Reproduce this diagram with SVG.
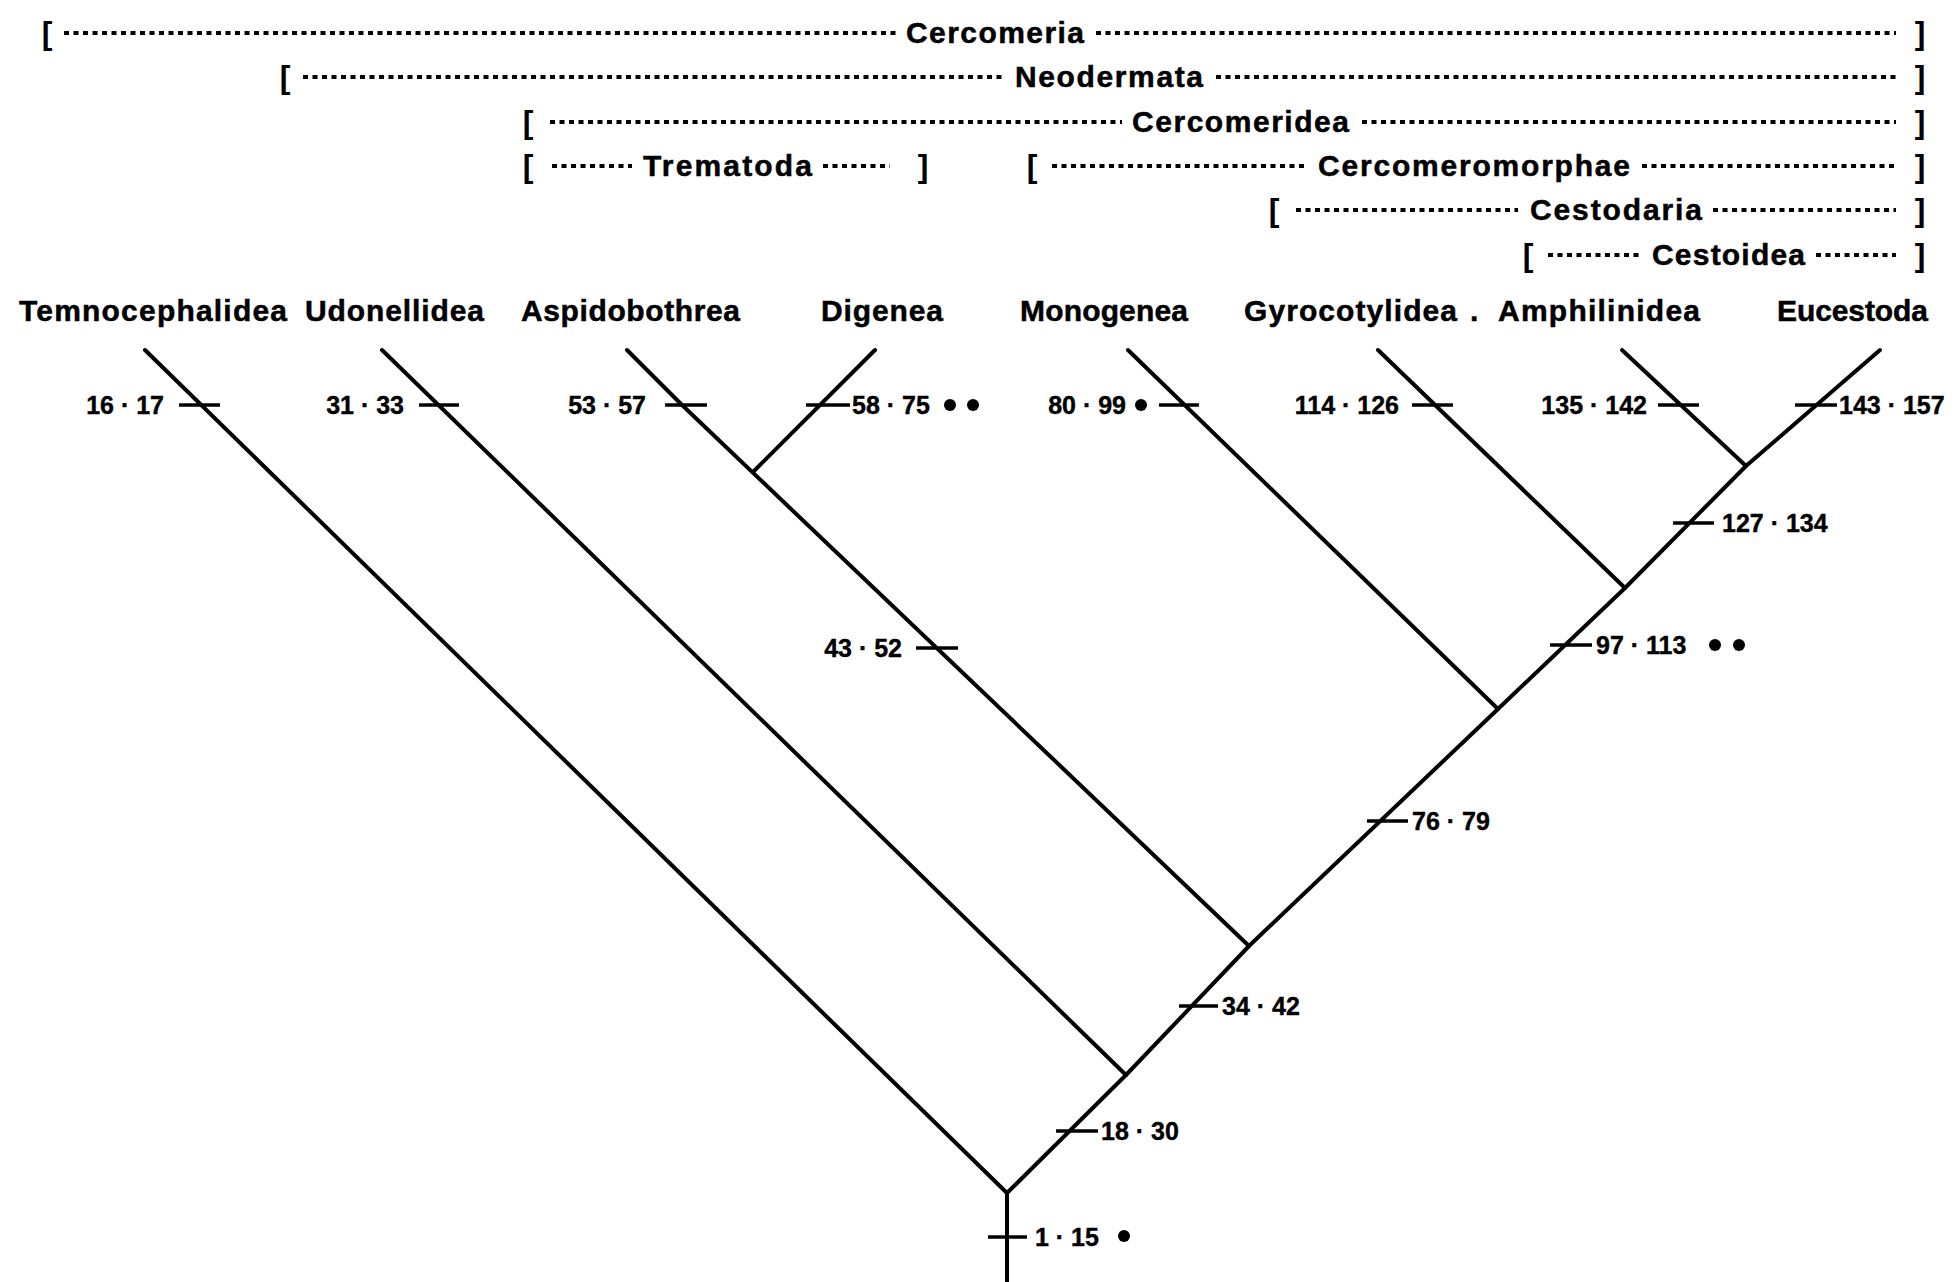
<svg xmlns="http://www.w3.org/2000/svg" width="1959" height="1282" viewBox="0 0 1959 1282">
  <style>
    .bg { fill: #ffffff; }
    .clade { font-family: "Liberation Sans", Arial, sans-serif; font-weight: bold; font-size: 30px; fill: #000; stroke: #000; stroke-width: 0.5; }
    .br { font-family: "Liberation Sans", Arial, sans-serif; font-weight: bold; font-size: 32px; fill: #000; text-anchor: middle; }
    .lead { stroke: #000; stroke-width: 4; stroke-dasharray: 5 4.5; fill: none; }
    .taxon { font-family: "Liberation Sans", Arial, sans-serif; font-weight: bold; font-size: 30px; fill: #000; stroke: #000; stroke-width: 0.5; }
    .num { font-family: "Liberation Sans", Arial, sans-serif; font-weight: bold; font-size: 25px; fill: #000; stroke: #000; stroke-width: 0.4; }
    .numL { text-anchor: end; }
    .branch { stroke: #000; stroke-width: 4; fill: none; stroke-linejoin: round; stroke-linecap: round; }
    .tick { stroke: #000; stroke-width: 3.5; }
    .dot { fill: #000; }
  </style>
  <rect class="bg" x="0" y="0" width="1959" height="1282"/>

  <!-- clade brackets above the tree -->
  <g id="clade-cercomeria">
    <text class="br" x="47" y="44">[</text>
    <line class="lead" x1="64" y1="33" x2="896" y2="33"/>
    <text class="clade" x="906" y="43" textLength="178" lengthAdjust="spacing">Cercomeria</text>
    <line class="lead" x1="1096" y1="33" x2="1896" y2="33"/>
    <text class="br" x="1920" y="44">]</text>
  </g>
  <g id="clade-neodermata">
    <text class="br" x="285" y="88">[</text>
    <line class="lead" x1="303" y1="77" x2="1005" y2="77"/>
    <text class="clade" x="1015" y="87" textLength="188" lengthAdjust="spacing">Neodermata</text>
    <line class="lead" x1="1216" y1="77" x2="1896" y2="77"/>
    <text class="br" x="1920" y="88">]</text>
  </g>
  <g id="clade-cercomeridea">
    <text class="br" x="528" y="133">[</text>
    <line class="lead" x1="550" y1="122" x2="1122" y2="122"/>
    <text class="clade" x="1132" y="132" textLength="217" lengthAdjust="spacing">Cercomeridea</text>
    <line class="lead" x1="1362" y1="122" x2="1896" y2="122"/>
    <text class="br" x="1920" y="133">]</text>
  </g>
  <g id="clade-trematoda">
    <text class="br" x="528" y="177">[</text>
    <line class="lead" x1="552" y1="166" x2="632" y2="166"/>
    <text class="clade" x="643" y="176" textLength="169" lengthAdjust="spacing">Trematoda</text>
    <line class="lead" x1="823" y1="166" x2="890" y2="166"/>
    <text class="br" x="923" y="177">]</text>
  </g>
  <g id="clade-cercomeromorphae">
    <text class="br" x="1032" y="177">[</text>
    <line class="lead" x1="1052" y1="166" x2="1306" y2="166"/>
    <text class="clade" x="1318" y="176" textLength="312" lengthAdjust="spacing">Cercomeromorphae</text>
    <line class="lead" x1="1642" y1="166" x2="1896" y2="166"/>
    <text class="br" x="1920" y="177">]</text>
  </g>
  <g id="clade-cestodaria">
    <text class="br" x="1274" y="221">[</text>
    <line class="lead" x1="1296" y1="210" x2="1518" y2="210"/>
    <text class="clade" x="1530" y="220" textLength="172" lengthAdjust="spacing">Cestodaria</text>
    <line class="lead" x1="1713" y1="210" x2="1896" y2="210"/>
    <text class="br" x="1920" y="221">]</text>
  </g>
  <g id="clade-cestoidea">
    <text class="br" x="1528" y="266">[</text>
    <line class="lead" x1="1548" y1="255" x2="1640" y2="255"/>
    <text class="clade" x="1652" y="265" textLength="153" lengthAdjust="spacing">Cestoidea</text>
    <line class="lead" x1="1816" y1="255" x2="1896" y2="255"/>
    <text class="br" x="1920" y="266">]</text>
  </g>

  <!-- terminal taxa -->
  <g id="taxon-temnocephalidea"><text class="taxon" x="19" y="321" textLength="268" lengthAdjust="spacing">Temnocephalidea</text></g>
  <g id="taxon-udonellidea"><text class="taxon" x="305" y="321" textLength="179" lengthAdjust="spacing">Udonellidea</text></g>
  <g id="taxon-aspidobothrea"><text class="taxon" x="521" y="321" textLength="219" lengthAdjust="spacing">Aspidobothrea</text></g>
  <g id="taxon-digenea"><text class="taxon" x="821" y="321" textLength="122" lengthAdjust="spacing">Digenea</text></g>
  <g id="taxon-monogenea"><text class="taxon" x="1020" y="321" textLength="168" lengthAdjust="spacing">Monogenea</text></g>
  <g id="taxon-gyrocotylidea"><text class="taxon" x="1244" y="321" textLength="213" lengthAdjust="spacing">Gyrocotylidea</text><text class="taxon" x="1470" y="321">.</text></g>
  <g id="taxon-amphilinidea"><text class="taxon" x="1498" y="321" textLength="202" lengthAdjust="spacing">Amphilinidea</text></g>
  <g id="taxon-eucestoda"><text class="taxon" x="1777" y="321" textLength="151" lengthAdjust="spacing">Eucestoda</text></g>

  <!-- branches of the tree -->
  <g id="connectors">
    <polyline class="branch" points="1007,1282 1007,1193 1126,1075 1249,946 1498,709 1625,588 1746,466 1880,350"/>
    <line class="branch" x1="145" y1="350" x2="1007" y2="1193"/>
    <line class="branch" x1="382" y1="350" x2="1126" y2="1075"/>
    <polyline class="branch" points="627,350 682,405 1249,946"/>
    <line class="branch" x1="875" y1="350" x2="753" y2="472"/>
    <line class="branch" x1="1128" y1="350" x2="1498" y2="709"/>
    <line class="branch" x1="1378" y1="350" x2="1625" y2="588"/>
    <line class="branch" x1="1622" y1="350" x2="1746" y2="466"/>
  </g>

  <!-- character-state ranges marked on branches -->
  <g id="chars-16-17"><line class="tick" x1="179" y1="405" x2="220" y2="405"/><text class="num numL" x="164" y="414">16 · 17</text></g>
  <g id="chars-31-33"><line class="tick" x1="419" y1="405" x2="459" y2="405"/><text class="num numL" x="404" y="414">31 · 33</text></g>
  <g id="chars-53-57"><line class="tick" x1="665" y1="405" x2="707" y2="405"/><text class="num numL" x="646" y="414">53 · 57</text></g>
  <g id="chars-58-75"><line class="tick" x1="806" y1="405" x2="850" y2="405"/><text class="num" x="852" y="414">58 · 75</text><circle class="dot" cx="950" cy="405" r="6"/><circle class="dot" cx="973" cy="405" r="6"/></g>
  <g id="chars-80-99"><line class="tick" x1="1159" y1="405" x2="1199" y2="405"/><text class="num numL" x="1126" y="414">80 · 99</text><circle class="dot" cx="1141" cy="405" r="6"/></g>
  <g id="chars-114-126"><line class="tick" x1="1412" y1="405" x2="1453" y2="405"/><text class="num numL" x="1399" y="414">114 · 126</text></g>
  <g id="chars-135-142"><line class="tick" x1="1658" y1="405" x2="1699" y2="405"/><text class="num numL" x="1647" y="414">135 · 142</text></g>
  <g id="chars-143-157"><line class="tick" x1="1795" y1="405" x2="1837" y2="405"/><text class="num" x="1839" y="414">143 · 157</text></g>
  <g id="chars-127-134"><line class="tick" x1="1673" y1="523" x2="1714" y2="523"/><text class="num" x="1722" y="532">127 · 134</text></g>
  <g id="chars-43-52"><line class="tick" x1="916" y1="648" x2="958" y2="648"/><text class="num numL" x="902" y="657">43 · 52</text></g>
  <g id="chars-97-113"><line class="tick" x1="1550" y1="645" x2="1592" y2="645"/><text class="num" x="1596" y="654">97 · 113</text><circle class="dot" cx="1715" cy="645" r="6"/><circle class="dot" cx="1739" cy="645" r="6"/></g>
  <g id="chars-76-79"><line class="tick" x1="1367" y1="821" x2="1408" y2="821"/><text class="num" x="1412" y="830">76 · 79</text></g>
  <g id="chars-34-42"><line class="tick" x1="1179" y1="1006" x2="1218" y2="1006"/><text class="num" x="1222" y="1015">34 · 42</text></g>
  <g id="chars-18-30"><line class="tick" x1="1056" y1="1131" x2="1098" y2="1131"/><text class="num" x="1101" y="1140">18 · 30</text></g>
  <g id="chars-1-15"><line class="tick" x1="988" y1="1237" x2="1027" y2="1237"/><text class="num" x="1035" y="1246">1 · 15</text><circle class="dot" cx="1124" cy="1236" r="6"/></g>
</svg>
